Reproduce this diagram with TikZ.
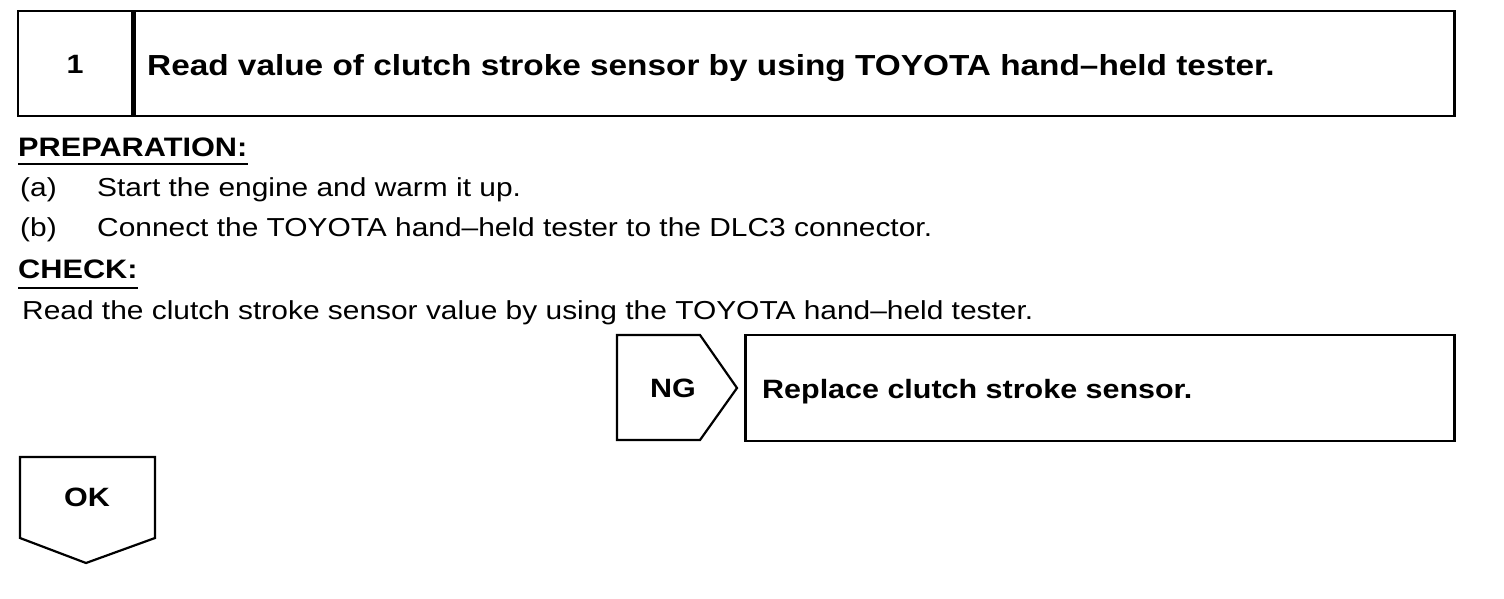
\documentclass[tikz,border=0pt]{standalone}
\usepackage{fontspec}
\setmainfont{Liberation Sans}
\usetikzlibrary{positioning,calc}

\newcommand{\hs}[1]{\scalebox{1.15}[1]{#1}}

\tikzset{
  stepbox/.style={draw, line width=2.6pt, inner sep=0pt},
  head/.style={font=\fontsize{26.7}{30}\selectfont\bfseries, anchor=base west, inner sep=0pt},
  body/.style={font=\fontsize{26}{30}\selectfont, anchor=base west, inner sep=0pt},
  bigtxt/.style={font=\fontsize{29}{34}\selectfont\bfseries, inner sep=0pt},
  midtxt/.style={font=\fontsize{26.5}{30}\selectfont\bfseries, inner sep=0pt},
  rule/.style={line width=1.3pt}
}

\begin{document}
\begin{tikzpicture}[x=1pt, y=-1pt]
\useasboundingbox (0,0) rectangle (1504,598);
% step header
\node[stepbox, minimum width=114pt, minimum height=105pt] (num) at (75,63.5) {};
\node[midtxt] at ([yshift=-1pt]num.center) {\hs{1}};
\node[stepbox, anchor=west, minimum width=1320pt, minimum height=105pt] (title) at (num.east) {};
\node[bigtxt, anchor=base west] (titletxt) at (147,75) {\hs{Read value of clutch stroke sensor by using TOYOTA hand--held tester.}};
% preparation
\node[head] (prep) at (18,156) {\hs{PREPARATION:}};
\draw[rule] ([yshift=-8pt]prep.base west) -- ([yshift=-8pt]prep.base east);
\node[body] (pa) at (20,196) {\hs{(a)}};
\node[body] (pat) at (97,196) {\hs{Start the engine and warm it up.}};
\node[body] (pb) at (20,236) {\hs{(b)}};
\node[body] (pbt) at (97,236) {\hs{Connect the TOYOTA hand--held tester to the DLC3 connector.}};
% check
\node[head] (chk) at (18,278) {\hs{CHECK:}};
\draw[rule] ([yshift=-10pt]chk.base west) -- ([yshift=-10pt]chk.base east);
\node[body] (chkt) at (22,319) {\hs{Read the clutch stroke sensor value by using the TOYOTA hand--held tester.}};
% NG branch
\coordinate (ng1) at (617,335);
\coordinate (ng2) at (700,335);
\coordinate (ng3) at (737,388);
\coordinate (ng4) at (700,440);
\coordinate (ng5) at (617,440);
\draw[line width=2.2pt, line join=miter] (ng1) -- (ng2) -- (ng3) -- (ng4) -- (ng5) -- cycle;
\node[midtxt] (ng) at (673,388) {\hs{NG}};
\node[stepbox, minimum width=709pt, minimum height=106pt] (repl) at (1100,388) {};
\node[midtxt, anchor=base west] (repltxt) at (762,398) {\hs{Replace clutch stroke sensor.}};
% OK branch
\coordinate (ok1) at (20,457);
\coordinate (ok2) at (155,457);
\coordinate (ok3) at (155,538);
\coordinate (ok4) at (86,563);
\coordinate (ok5) at (20,538);
\draw[line width=2.2pt, line join=miter] (ok1) -- (ok2) -- (ok3) -- (ok4) -- (ok5) -- cycle;
\node[midtxt] (ok) at (87,497) {\hs{OK}};
\end{tikzpicture}
\end{document}
